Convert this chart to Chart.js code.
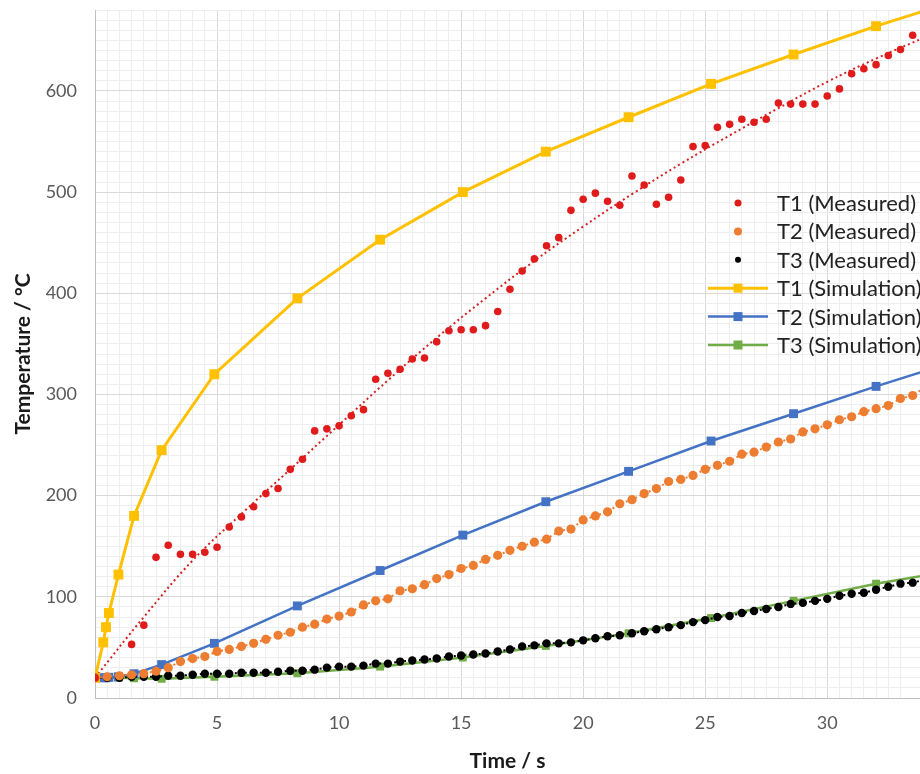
<!DOCTYPE html>
<html>
<head>
<meta charset="utf-8">
<script src="https://cdn.jsdelivr.net/npm/chart.js@4.4.1/dist/chart.umd.min.js"></script>
<style>
  body { margin: 0; background: #fff; }
  #wrap { width: 920px; height: 774px; }
</style>
</head>
<body>
<div id="wrap"><canvas id="tempChart" width="920" height="774"></canvas></div>
<script>
// simulation output times (s) and temperatures (°C)
const simTime = [0, 0.34, 0.45, 0.57, 0.96, 1.6, 2.73, 4.89, 8.29, 11.68, 15.07, 18.47, 21.86, 25.24, 28.62, 32.0, 35.4];
const t1Sim = [20, 55, 70, 84, 122, 180, 245, 320, 395, 453, 500, 540, 574, 607, 636, 664, 690];
const t2Sim = [20, 20, 20, 20.5, 21, 24, 33, 54, 91, 126, 161, 194, 224, 254, 281, 308, 334];
const t3Sim = [20, 20, 20, 20, 20, 19.5, 19, 21, 24.5, 31, 40, 51.5, 64, 79, 96, 113, 127];

// measured thermocouples
const t1MeasTime = [0, 1.5, 2, 2.5, 3, 3.5, 4, 4.5, 5, 5.5, 6, 6.5, 7, 7.5, 8, 8.5, 9, 9.5, 10, 10.5, 11, 11.5, 12, 12.5, 13, 13.5, 14, 14.5, 15, 15.5, 16, 16.5, 17, 17.5, 18, 18.5, 19, 19.5, 20, 20.5, 21, 21.5, 22, 22.5, 23, 23.5, 24, 24.5, 25, 25.5, 26, 26.5, 27, 27.5, 28, 28.5, 29, 29.5, 30, 30.5, 31, 31.5, 32, 32.5, 33, 33.5];
const t1Meas = [20, 53, 72, 139, 151, 142, 142, 144, 149, 169, 179, 189, 202, 207, 226, 236, 264, 266, 269, 279, 285, 315, 321, 325, 335, 336, 352, 363, 364, 364, 368, 382, 404, 422, 434, 447, 455, 482, 493, 499, 491, 487, 516, 507, 488, 495, 512, 545, 546, 564, 567, 572, 569, 572, 588, 587, 587, 587, 595, 602, 617, 622, 626, 635, 641, 655];

const measTime = [0, 0.5, 1, 1.5, 2, 2.5, 3, 3.5, 4, 4.5, 5, 5.5, 6, 6.5, 7, 7.5, 8, 8.5, 9, 9.5, 10, 10.5, 11, 11.5, 12, 12.5, 13, 13.5, 14, 14.5, 15, 15.5, 16, 16.5, 17, 17.5, 18, 18.5, 19, 19.5, 20, 20.5, 21, 21.5, 22, 22.5, 23, 23.5, 24, 24.5, 25, 25.5, 26, 26.5, 27, 27.5, 28, 28.5, 29, 29.5, 30, 30.5, 31, 31.5, 32, 32.5, 33, 33.5, 34];
const t2Meas = [20, 21, 22, 23, 24, 26.5, 30, 36, 39, 41, 46, 48, 51, 54, 58, 62, 65, 70, 73, 78, 81, 85, 92, 96, 98, 106, 108, 112, 118, 122, 128, 131, 137, 141, 146, 150, 154, 157, 165, 167, 176, 180, 184, 192, 196, 202, 207, 214, 216, 220, 226, 230, 234, 241, 243, 248, 253, 256, 263, 266, 270, 275, 278, 283, 286, 289, 296, 299, 307];
const t3Meas = [20, 20, 20, 21, 21, 21, 22, 22, 23, 24, 24, 24, 25, 25, 25, 26, 27, 27, 28, 30, 31, 31, 32, 34, 34, 36, 37, 38, 39, 41, 42, 43, 44, 46, 48, 51, 52, 54, 54, 55, 57, 59, 61, 62, 64, 66, 68, 70, 72, 75, 77, 80, 81, 84, 86, 88, 90, 93, 94, 96, 98, 101, 103, 104, 107, 110, 113, 114, 117];

// dotted trend line through T1 measurements
const t1TrendTime = [0, 2, 4, 6, 8, 10, 12, 14, 16, 18, 20, 22, 24, 26, 28, 30, 32, 34];
const t1Trend = [20, 80, 136, 182, 226, 270, 314, 356, 395, 432, 466, 498, 528, 556, 583, 609, 632, 653];

const xy = (xs, ys) => xs.map((x, i) => ({ x: x, y: ys[i] }));

const FONT = 'Lato, "Open Sans", sans-serif';

// legend drawn inside the plot, like the original
const insideLegend = {
    id: 'insideLegend',
    afterDraw(chart) {
        const ctx = chart.ctx;
        const area = chart.chartArea;
        const markX = area.right - 182;
        const textX = area.right - 143;
        ctx.save();
        ctx.font = '22px ' + FONT;
        ctx.textBaseline = 'middle';
        chart.data.datasets.forEach(ds => {
            if (ds.legendRow === undefined) return;
            const y = area.top + 193 + ds.legendRow * 28.4;
            if (ds.legendLine) {
                ctx.strokeStyle = ds.borderColor;
                ctx.lineWidth = ds.borderWidth;
                ctx.beginPath();
                ctx.moveTo(markX - 30, y);
                ctx.lineTo(markX + 30, y);
                ctx.stroke();
                ctx.fillStyle = ds.pointBackgroundColor;
                ctx.fillRect(markX - 4.5, y - 4.5, 9, 9);
            } else {
                ctx.fillStyle = ds.pointBackgroundColor;
                ctx.beginPath();
                ctx.arc(markX, y, ds.legendDot, 0, Math.PI * 2);
                ctx.fill();
            }
            ctx.fillStyle = '#222';
            ctx.fillText(ds.label, textX, y + 1);
        });
        ctx.restore();
    }
};

const tempChart = new Chart(document.getElementById('tempChart'), {
    type: 'scatter',
    data: {
        datasets: [
            {
                label: 'T1 (Measured)',
                data: xy(t1MeasTime, t1Meas),
                showLine: false,
                pointRadius: 3.8,
                pointBackgroundColor: '#e01b1b',
                pointBorderWidth: 0,
                legendRow: 0, legendDot: 3.5
            },
            {
                label: 'T2 (Measured)',
                data: xy(measTime, t2Meas),
                showLine: true,
                borderColor: '#ed7d31',
                borderWidth: 2,
                borderDash: [2, 3],
                pointRadius: 4.6,
                pointBackgroundColor: '#ed7d31',
                pointBorderWidth: 0,
                legendRow: 1, legendDot: 4
            },
            {
                label: 'T3 (Measured)',
                data: xy(measTime, t3Meas),
                showLine: true,
                borderColor: '#000000',
                borderWidth: 2,
                borderDash: [2, 3],
                pointRadius: 4.2,
                pointBackgroundColor: '#000000',
                pointBorderWidth: 0,
                legendRow: 2, legendDot: 3
            },
            {
                label: 'T1 (Simulation)',
                data: xy(simTime, t1Sim),
                showLine: true,
                tension: 0,
                borderColor: '#ffc000',
                borderWidth: 3,
                pointStyle: 'rect',
                pointRadius: 7,
                pointBackgroundColor: '#ffc000',
                pointBorderWidth: 0,
                legendRow: 3, legendLine: true
            },
            {
                label: 'T2 (Simulation)',
                data: xy(simTime, t2Sim),
                showLine: true,
                borderColor: '#4472c4',
                borderWidth: 2.5,
                pointStyle: 'rect',
                pointRadius: 6.3,
                pointBackgroundColor: '#4472c4',
                pointBorderWidth: 0,
                legendRow: 4, legendLine: true
            },
            {
                label: 'T3 (Simulation)',
                data: xy(simTime, t3Sim),
                showLine: true,
                borderColor: '#70ad47',
                borderWidth: 2.5,
                pointStyle: 'rect',
                pointRadius: 5.6,
                pointBackgroundColor: '#70ad47',
                pointBorderWidth: 0,
                legendRow: 5, legendLine: true
            },
            {
                label: 'T1 trend',
                data: xy(t1TrendTime, t1Trend),
                showLine: true,
                tension: 0.4,
                borderColor: '#d42020',
                borderWidth: 2,
                borderDash: [2, 3],
                pointRadius: 0
            }
        ]
    },
    options: {
        responsive: false,
        animation: false,
        layout: { autoPadding: false, padding: { top: 10, right: 0, left: 0, bottom: 0 } },
        plugins: {
            legend: { display: false },
            tooltip: { enabled: false }
        },
        scales: {
            x: {
                type: 'linear',
                min: 0,
                max: 33.8,
                afterFit: s => { s.height = 76; s.paddingLeft = 0; s.paddingRight = 0; },
                border: { color: '#bfbfbf', width: 1 },
                grid: {
                    drawTicks: false,
                    color: c => (c.tick && c.tick.value % 5 === 0) ? '#d9d9d9' : '#eeeeee'
                },
                ticks: {
                    stepSize: 0.5,
                    autoSkip: false,
                    maxRotation: 0,
                    padding: 14,
                    color: '#595959',
                    font: { family: FONT, size: 18 },
                    callback: v => (v % 5 === 0 ? v : '')
                },
                title: {
                    display: true,
                    text: 'Time / s',
                    color: '#1a1a1a',
                    padding: { top: 0, bottom: 0 },
                    font: { family: FONT, size: 21, weight: 'bold' }
                }
            },
            y: {
                type: 'linear',
                min: 0,
                max: 680,
                afterFit: s => { s.width = 95; s.paddingTop = 0; s.paddingBottom = 0; },
                border: { color: '#bfbfbf', width: 1 },
                grid: {
                    drawTicks: false,
                    color: c => (c.tick && c.tick.value % 100 === 0) ? '#d9d9d9' : '#eeeeee'
                },
                ticks: {
                    stepSize: 10,
                    autoSkip: false,
                    padding: 18,
                    color: '#595959',
                    font: { family: FONT, size: 18 },
                    callback: v => (v % 100 === 0 ? v : '')
                },
                title: {
                    display: true,
                    text: 'Temperature / °C',
                    color: '#1a1a1a',
                    padding: { top: 11, bottom: 0 },
                    font: { family: FONT, size: 21, weight: 'bold' }
                }
            }
        }
    },
    plugins: [insideLegend]
});
</script>
</body>
</html>
